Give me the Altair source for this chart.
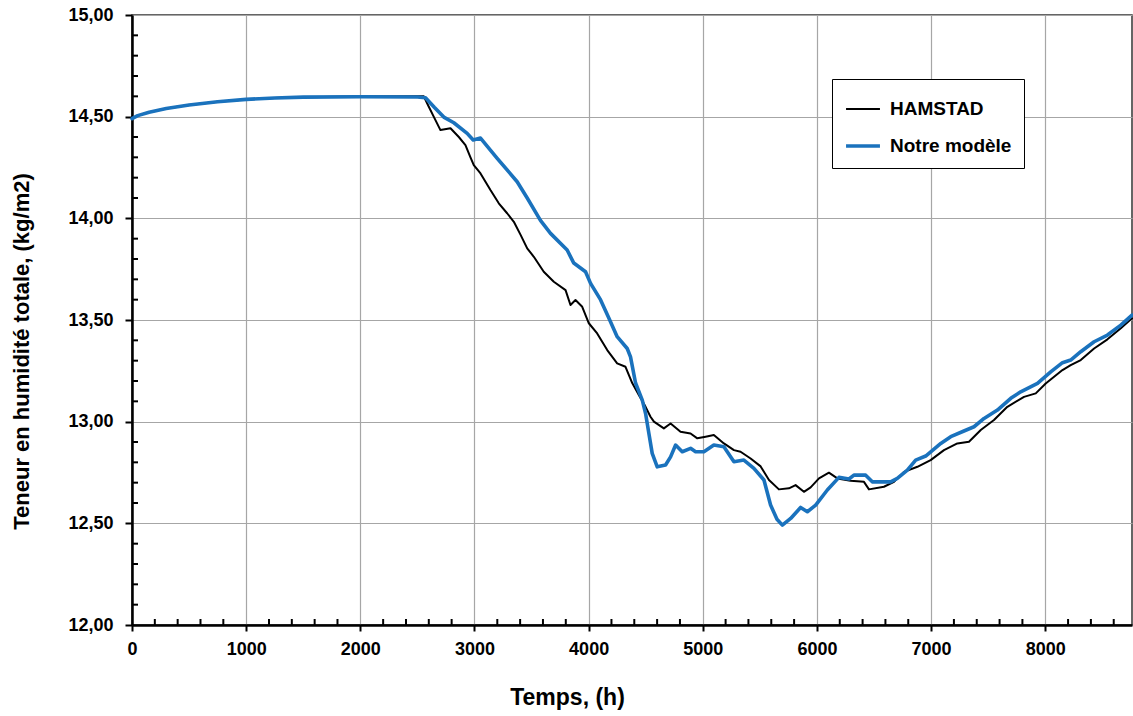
import altair as alt
import pandas as pd

# Simulated total moisture content over one year (hours), two models
hamstad_h = [0, 50, 150, 300, 500, 750, 1000, 1250, 1500, 2000, 2556, 2600, 2643, 2702,
             2790, 2863, 2921, 2965, 2994, 3053, 3140, 3213, 3286, 3345, 3403, 3462,
             3520, 3607, 3695, 3798, 3841, 3885, 3944, 4002, 4075, 4163, 4250, 4323,
             4382, 4440, 4499, 4542, 4572, 4659, 4718, 4805, 4893, 4952, 5025, 5097,
             5185, 5273, 5331, 5419, 5507, 5580, 5667, 5755, 5813, 5886, 5945, 6018,
             6105, 6179, 6295, 6412, 6456, 6587, 6675, 6763, 6880, 6996, 7113, 7230,
             7332, 7435, 7551, 7668, 7814, 7917, 8004, 8151, 8223, 8311, 8428, 8545,
             8662, 8760]
hamstad_v = [14.490, 14.505, 14.522, 14.540, 14.557, 14.573, 14.585, 14.592, 14.596,
             14.599, 14.600, 14.549, 14.500, 14.434, 14.443, 14.400, 14.360, 14.300,
             14.262, 14.221, 14.139, 14.074, 14.025, 13.983, 13.920, 13.852, 13.811,
             13.737, 13.688, 13.647, 13.574, 13.598, 13.565, 13.484, 13.434, 13.352,
             13.287, 13.270, 13.190, 13.131, 13.073, 13.024, 13.000, 12.967, 12.991,
             12.950, 12.942, 12.918, 12.926, 12.934, 12.893, 12.860, 12.852, 12.819,
             12.780, 12.713, 12.667, 12.672, 12.688, 12.655, 12.677, 12.721, 12.749,
             12.721, 12.709, 12.704, 12.667, 12.680, 12.704, 12.753, 12.778, 12.811,
             12.860, 12.893, 12.901, 12.959, 13.008, 13.073, 13.122, 13.139, 13.188,
             13.254, 13.278, 13.303, 13.360, 13.405, 13.459, 13.508]

modele_h = [0, 50, 150, 300, 500, 750, 1000, 1250, 1500, 2000, 2500, 2571, 2650, 2731,
            2819, 2936, 2989, 3053, 3199, 3374, 3462, 3578, 3666, 3812, 3870, 3973,
            4017, 4104, 4177, 4250, 4338, 4367, 4411, 4470, 4499, 4528, 4557, 4601,
            4674, 4718, 4762, 4820, 4893, 4937, 5010, 5097, 5185, 5273, 5360, 5448,
            5536, 5594, 5650, 5697, 5770, 5857, 5916, 5989, 6091, 6193, 6281, 6324,
            6427, 6485, 6646, 6704, 6792, 6865, 6953, 7085, 7172, 7288, 7376, 7464,
            7581, 7698, 7785, 7932, 8048, 8151, 8223, 8311, 8428, 8545, 8662, 8760]
modele_v = [14.490, 14.505, 14.522, 14.540, 14.557, 14.573, 14.585, 14.592, 14.596,
            14.598, 14.597, 14.593, 14.545, 14.498, 14.470, 14.418, 14.385, 14.395,
            14.295, 14.180, 14.100, 13.990, 13.926, 13.844, 13.780, 13.737, 13.680,
            13.600, 13.510, 13.418, 13.360, 13.319, 13.190, 13.106, 13.040, 12.942,
            12.844, 12.778, 12.787, 12.827, 12.885, 12.852, 12.869, 12.852, 12.852,
            12.885, 12.877, 12.803, 12.811, 12.770, 12.713, 12.590, 12.520, 12.491,
            12.524, 12.578, 12.557, 12.590, 12.664, 12.726, 12.718, 12.737, 12.737,
            12.704, 12.704, 12.721, 12.762, 12.811, 12.831, 12.893, 12.926, 12.954,
            12.975, 13.016, 13.057, 13.115, 13.147, 13.188, 13.245, 13.290, 13.303,
            13.344, 13.393, 13.426, 13.475, 13.524]

series_names = ["HAMSTAD", "Notre modèle"]
series_colors = ["#000000", "#1a72bd"]
series_widths = [2, 3.6]

x_major = [0, 1000, 2000, 3000, 4000, 5000, 6000, 7000, 8000]
y_major = [12.0, 12.5, 13.0, 13.5, 14.0, 14.5, 15.0]
x_minor = [v for v in range(200, 8760, 200) if v % 1000 != 0]
y_minor = [round(12 + 0.1 * i, 1) for i in range(1, 30) if i % 5 != 0]

FONT = "Liberation Sans"
W, H = 1000, 610

rows = []
for name, hs, vs in [(series_names[0], hamstad_h, hamstad_v),
                     (series_names[1], modele_h, modele_v)]:
    for h, v in zip(hs, vs):
        rows.append({"serie": name, "temps": h, "teneur": v})
df = pd.DataFrame(rows)

x_scale = alt.Scale(domain=[0, 8760], nice=False, zero=False)
y_scale = alt.Scale(domain=[12, 15], nice=False, zero=False)

x_axis = alt.Axis(
    values=x_major, title="Temps, (h)", format="d",
    labelFont=FONT, labelFontSize=18, labelFontWeight="bold", labelColor="black",
    titleFont=FONT, titleFontSize=23, titleFontWeight="bold", titleColor="black",
    titleX=435, titlePadding=28, labelPadding=9, tickSize=6, tickColor="black",
    tickWidth=2, domainColor="black", domainWidth=2.5,
    grid=True, gridColor="#a6a6a6", gridWidth=1.2, labelFlush=False,
)
y_axis = alt.Axis(
    values=y_major, title="Teneur en humidité totale, (kg/m2)",
    labelExpr="replace(format(datum.value, '.2f'), '.', ',')",
    labelFont=FONT, labelFontSize=18, labelFontWeight="bold", labelColor="black",
    titleFont=FONT, titleFontSize=22, titleFontWeight="bold", titleColor="black",
    titleY=336, titlePadding=34, labelPadding=12, tickSize=7, tickColor="black",
    tickWidth=2, domainColor="black", domainWidth=2.5,
    grid=True, gridColor="#a6a6a6", gridWidth=1.2, labelFlush=False,
)

lines = alt.Chart(df).mark_line(strokeJoin="round", strokeCap="round").encode(
    x=alt.X("temps:Q", scale=x_scale, axis=x_axis),
    y=alt.Y("teneur:Q", scale=y_scale, axis=y_axis),
    color=alt.Color("serie:N", title=None,
                    scale=alt.Scale(domain=series_names, range=series_colors)),
    strokeWidth=alt.StrokeWidth("serie:N", title=None,
                                scale=alt.Scale(domain=series_names, range=series_widths)),
    order=alt.Order("temps:Q"),
)

# Small inward ticks between the labelled ones
x_minor_ticks = alt.Chart(pd.DataFrame({"t": x_minor})).mark_rule(
    color="black", strokeWidth=2
).encode(
    x=alt.X("t:Q", scale=x_scale),
    y=alt.value(H - 6), y2=alt.value(H),
)
y_minor_ticks = alt.Chart(pd.DataFrame({"t": y_minor})).mark_rule(
    color="black", strokeWidth=2
).encode(
    y=alt.Y("t:Q", scale=y_scale),
    x=alt.value(0), x2=alt.value(6),
)

chart = alt.layer(lines, x_minor_ticks, y_minor_ticks).properties(
    width=W, height=H,
    autosize=alt.AutoSizeParams(type="none"),
    padding={"left": 132, "top": 15, "right": 1, "bottom": 91},
).configure_view(
    stroke="#333333", strokeWidth=1.5,
).configure_legend(
    orient="none", legendX=700, legendY=64,
    fillColor="white", strokeColor="black", padding=12,
    symbolType="stroke", symbolSize=1150,
    labelFont=FONT, labelFontSize=19, labelFontWeight="bold", labelColor="black",
    labelOffset=8, rowPadding=8,
)

chart.save("out.html", embed_options={"renderer": "svg", "actions": False})
